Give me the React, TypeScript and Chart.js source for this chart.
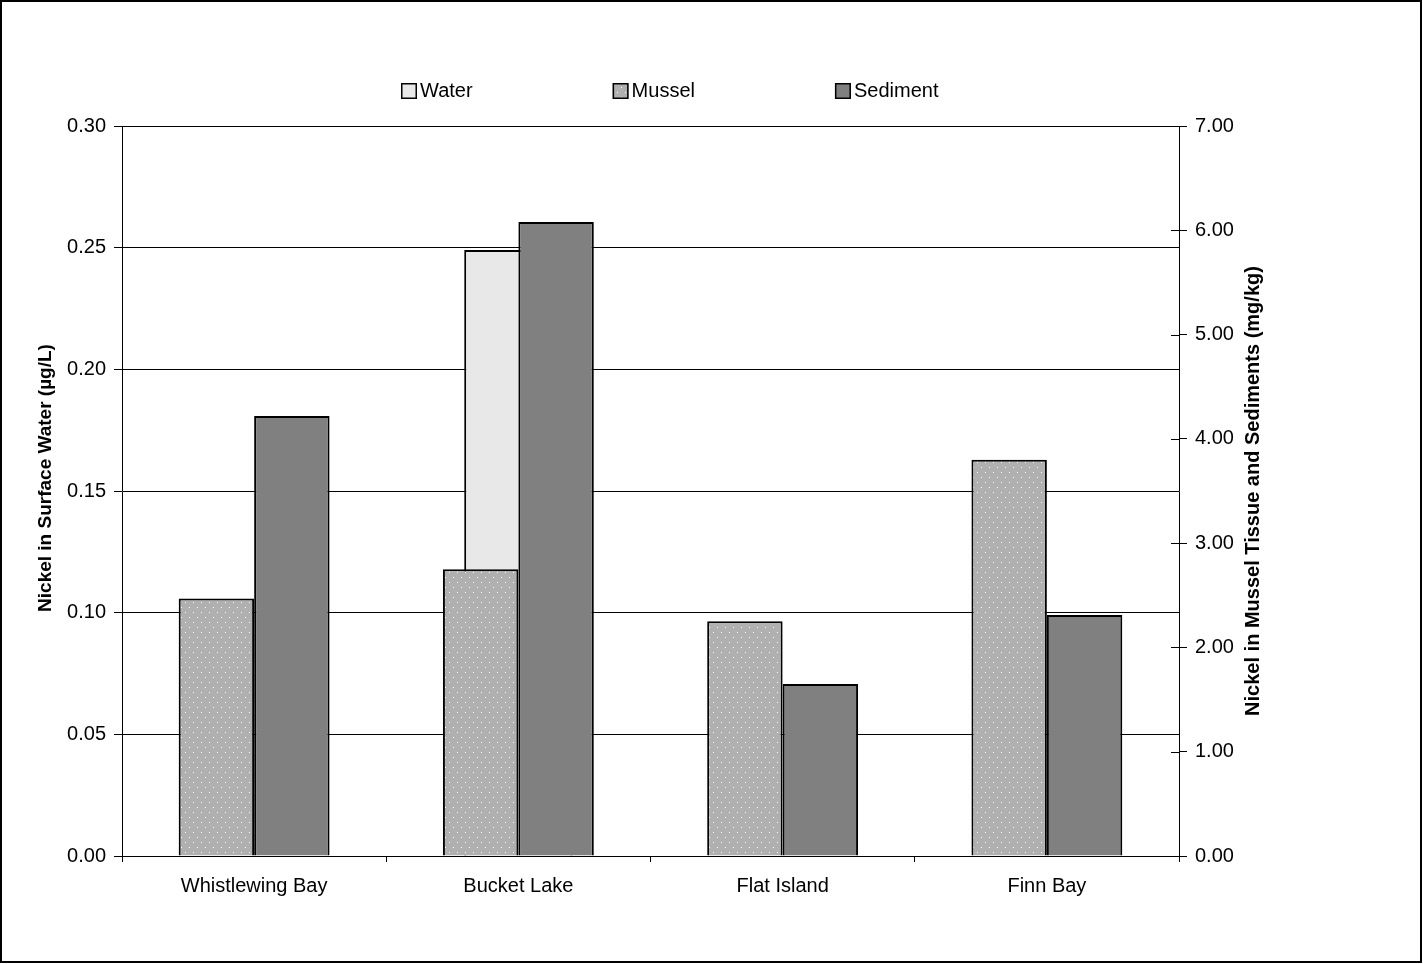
import React, { useEffect, useRef } from 'react';
import { Chart, registerables } from 'chart.js';

Chart.register(...registerables);

const FONT = "Arial, 'Liberation Sans', sans-serif";

const categories = ['Whistlewing Bay', 'Bucket Lake', 'Flat Island', 'Finn Bay'];
const seriesLabels = ['Water', 'Mussel', 'Sediment'];
const waterValues: (number | null)[] = [null, 0.249, null, null];
const musselValues = [2.47, 2.75, 2.25, 3.8];
const sedimentValues = [4.22, 6.08, 1.65, 2.31];

const leftAxisTitle = 'Nickel in Surface Water (µg/L)';
const rightAxisTitle = 'Nickel in Mussel Tissue and Sediments (mg/kg)';
const leftMin = 0;
const leftMax = 0.3;
const leftStep = 0.05;
const rightMin = 0;
const rightMax = 7;
const rightStep = 1;

function makeDotPattern(): CanvasPattern | string {
  const c = document.createElement('canvas');
  c.width = 8;
  c.height = 10;
  const g = c.getContext('2d');
  if (!g) return '#b0b0b0';
  g.fillStyle = '#b0b0b0';
  g.fillRect(0, 0, 8, 10);
  g.fillStyle = '#ffffff';
  g.fillRect(1, 2, 1, 1);
  g.fillRect(5, 7, 1, 1);
  const p = g.createPattern(c, 'repeat');
  return p || '#b0b0b0';
}

const decorPlugin = {
  id: 'decor',
  afterDraw(chart: any) {
    const { ctx, chartArea, scales } = chart;
    ctx.save();

    // inward part of right-axis tick marks
    const y1 = scales.y1;
    ctx.strokeStyle = '#000';
    ctx.lineWidth = 1;
    y1.ticks.forEach((_t: any, i: number) => {
      const py = Math.round(y1.getPixelForTick(i)) + 0.5;
      ctx.beginPath();
      ctx.moveTo(chartArea.right - 8, py);
      ctx.lineTo(chartArea.right, py);
      ctx.stroke();
    });

    // axis titles (both read bottom-to-top)
    const midY = (chartArea.top + chartArea.bottom) / 2;
    ctx.fillStyle = '#000';
    ctx.textAlign = 'center';
    ctx.textBaseline = 'alphabetic';
    ctx.font = 'bold 19px ' + FONT;
    ctx.save();
    ctx.translate(chartArea.left - 71, midY - 13);
    ctx.rotate(-Math.PI / 2);
    ctx.fillText(leftAxisTitle, 0, 0);
    ctx.restore();
    ctx.font = 'bold 20px ' + FONT;
    ctx.save();
    ctx.translate(chartArea.right + 80, midY);
    ctx.rotate(-Math.PI / 2);
    ctx.fillText(rightAxisTitle, 0, 0);
    ctx.restore();

    // legend
    ctx.font = '20px ' + FONT;
    ctx.textAlign = 'left';
    ctx.textBaseline = 'alphabetic';
    let x = chartArea.left + 279;
    const boxTop = 83;
    const box = 16;
    chart.data.datasets.forEach((ds: any) => {
      ctx.fillStyle = ds.backgroundColor;
      ctx.fillRect(x, boxTop, box, box);
      ctx.lineWidth = 1.5;
      ctx.strokeStyle = '#000';
      ctx.strokeRect(x + 0.75, boxTop + 0.75, box - 1.5, box - 1.5);
      ctx.fillStyle = '#000';
      ctx.fillText(ds.label, x + box + 3, 97);
      x += box + 3 + ctx.measureText(ds.label).width + 140;
    });

    // outer border
    ctx.lineWidth = 2;
    ctx.strokeStyle = '#000';
    ctx.strokeRect(1, 1, chart.width - 3, chart.height - 3);
    ctx.restore();
  },
};

export default function App() {
  const ref = useRef<HTMLCanvasElement>(null);

  useEffect(() => {
    document.body.style.margin = '0';
    const canvas = ref.current;
    if (!canvas) return;
    const dots = makeDotPattern();
    const tickFont = { family: FONT, size: 20 };

    const chart = new Chart(canvas, {
      type: 'bar',
      data: {
        labels: categories,
        datasets: [
          {
            label: seriesLabels[0],
            data: waterValues,
            yAxisID: 'y',
            backgroundColor: '#e8e8e8',
            borderColor: '#000',
            borderWidth: 2,
            grouped: false,
            categoryPercentage: 0.41,
            barPercentage: 1,
            order: 3,
          },
          {
            label: seriesLabels[1],
            data: musselValues,
            yAxisID: 'y1',
            backgroundColor: dots as any,
            borderColor: '#000',
            borderWidth: 2,
            categoryPercentage: 0.571,
            barPercentage: 1,
            stack: 'm',
            order: 1,
          },
          {
            label: seriesLabels[2],
            data: sedimentValues,
            yAxisID: 'y1',
            backgroundColor: '#808080',
            borderColor: '#000',
            borderWidth: 2,
            categoryPercentage: 0.571,
            barPercentage: 1,
            stack: 's',
            order: 2,
          },
        ] as any,
      },
      options: {
        responsive: false,
        animation: false,
        devicePixelRatio: 1,
        layout: { padding: { top: 126, left: 0, right: 0, bottom: 0 } },
        plugins: {
          legend: { display: false },
          tooltip: { enabled: false },
          title: { display: false },
        },
        scales: {
          x: {
            type: 'category',
            offset: true,
            grid: {
              display: true,
              drawOnChartArea: false,
              drawTicks: true,
              tickLength: 6,
              color: '#000',
              offset: true,
            },
            border: { display: true, color: '#000', width: 1 },
            ticks: { font: tickFont, color: '#000', padding: 12, maxRotation: 0, autoSkip: false },
            afterFit: (s: any) => {
              s.height = 108;
            },
          },
          y: {
            type: 'linear',
            position: 'left',
            min: leftMin,
            max: leftMax,
            stacked: false,
            grid: { color: '#000', lineWidth: 1, tickLength: 8, drawTicks: true },
            border: { display: true, color: '#000', width: 1 },
            ticks: {
              stepSize: leftStep,
              font: tickFont,
              color: '#000',
              padding: 8,
              callback: (v: any) => Number(v).toFixed(2),
            },
            afterFit: (s: any) => {
              s.width = 122;
            },
          },
          y1: {
            type: 'linear',
            position: 'right',
            min: rightMin,
            max: rightMax,
            stacked: false,
            grid: { drawOnChartArea: false, color: '#000', tickLength: 8, drawTicks: true },
            border: { display: true, color: '#000', width: 1 },
            ticks: {
              stepSize: rightStep,
              font: tickFont,
              color: '#000',
              padding: 8,
              callback: (v: any) => Number(v).toFixed(2),
            },
            afterFit: (s: any) => {
              s.width = 244;
            },
          },
        },
      } as any,
      plugins: [decorPlugin],
    });

    return () => chart.destroy();
  }, []);

  return (
    <div style={{ width: 1423, height: 964, position: 'relative', background: '#fff' }}>
      <canvas ref={ref} width={1423} height={964} style={{ display: 'block' }} />
    </div>
  );
}
